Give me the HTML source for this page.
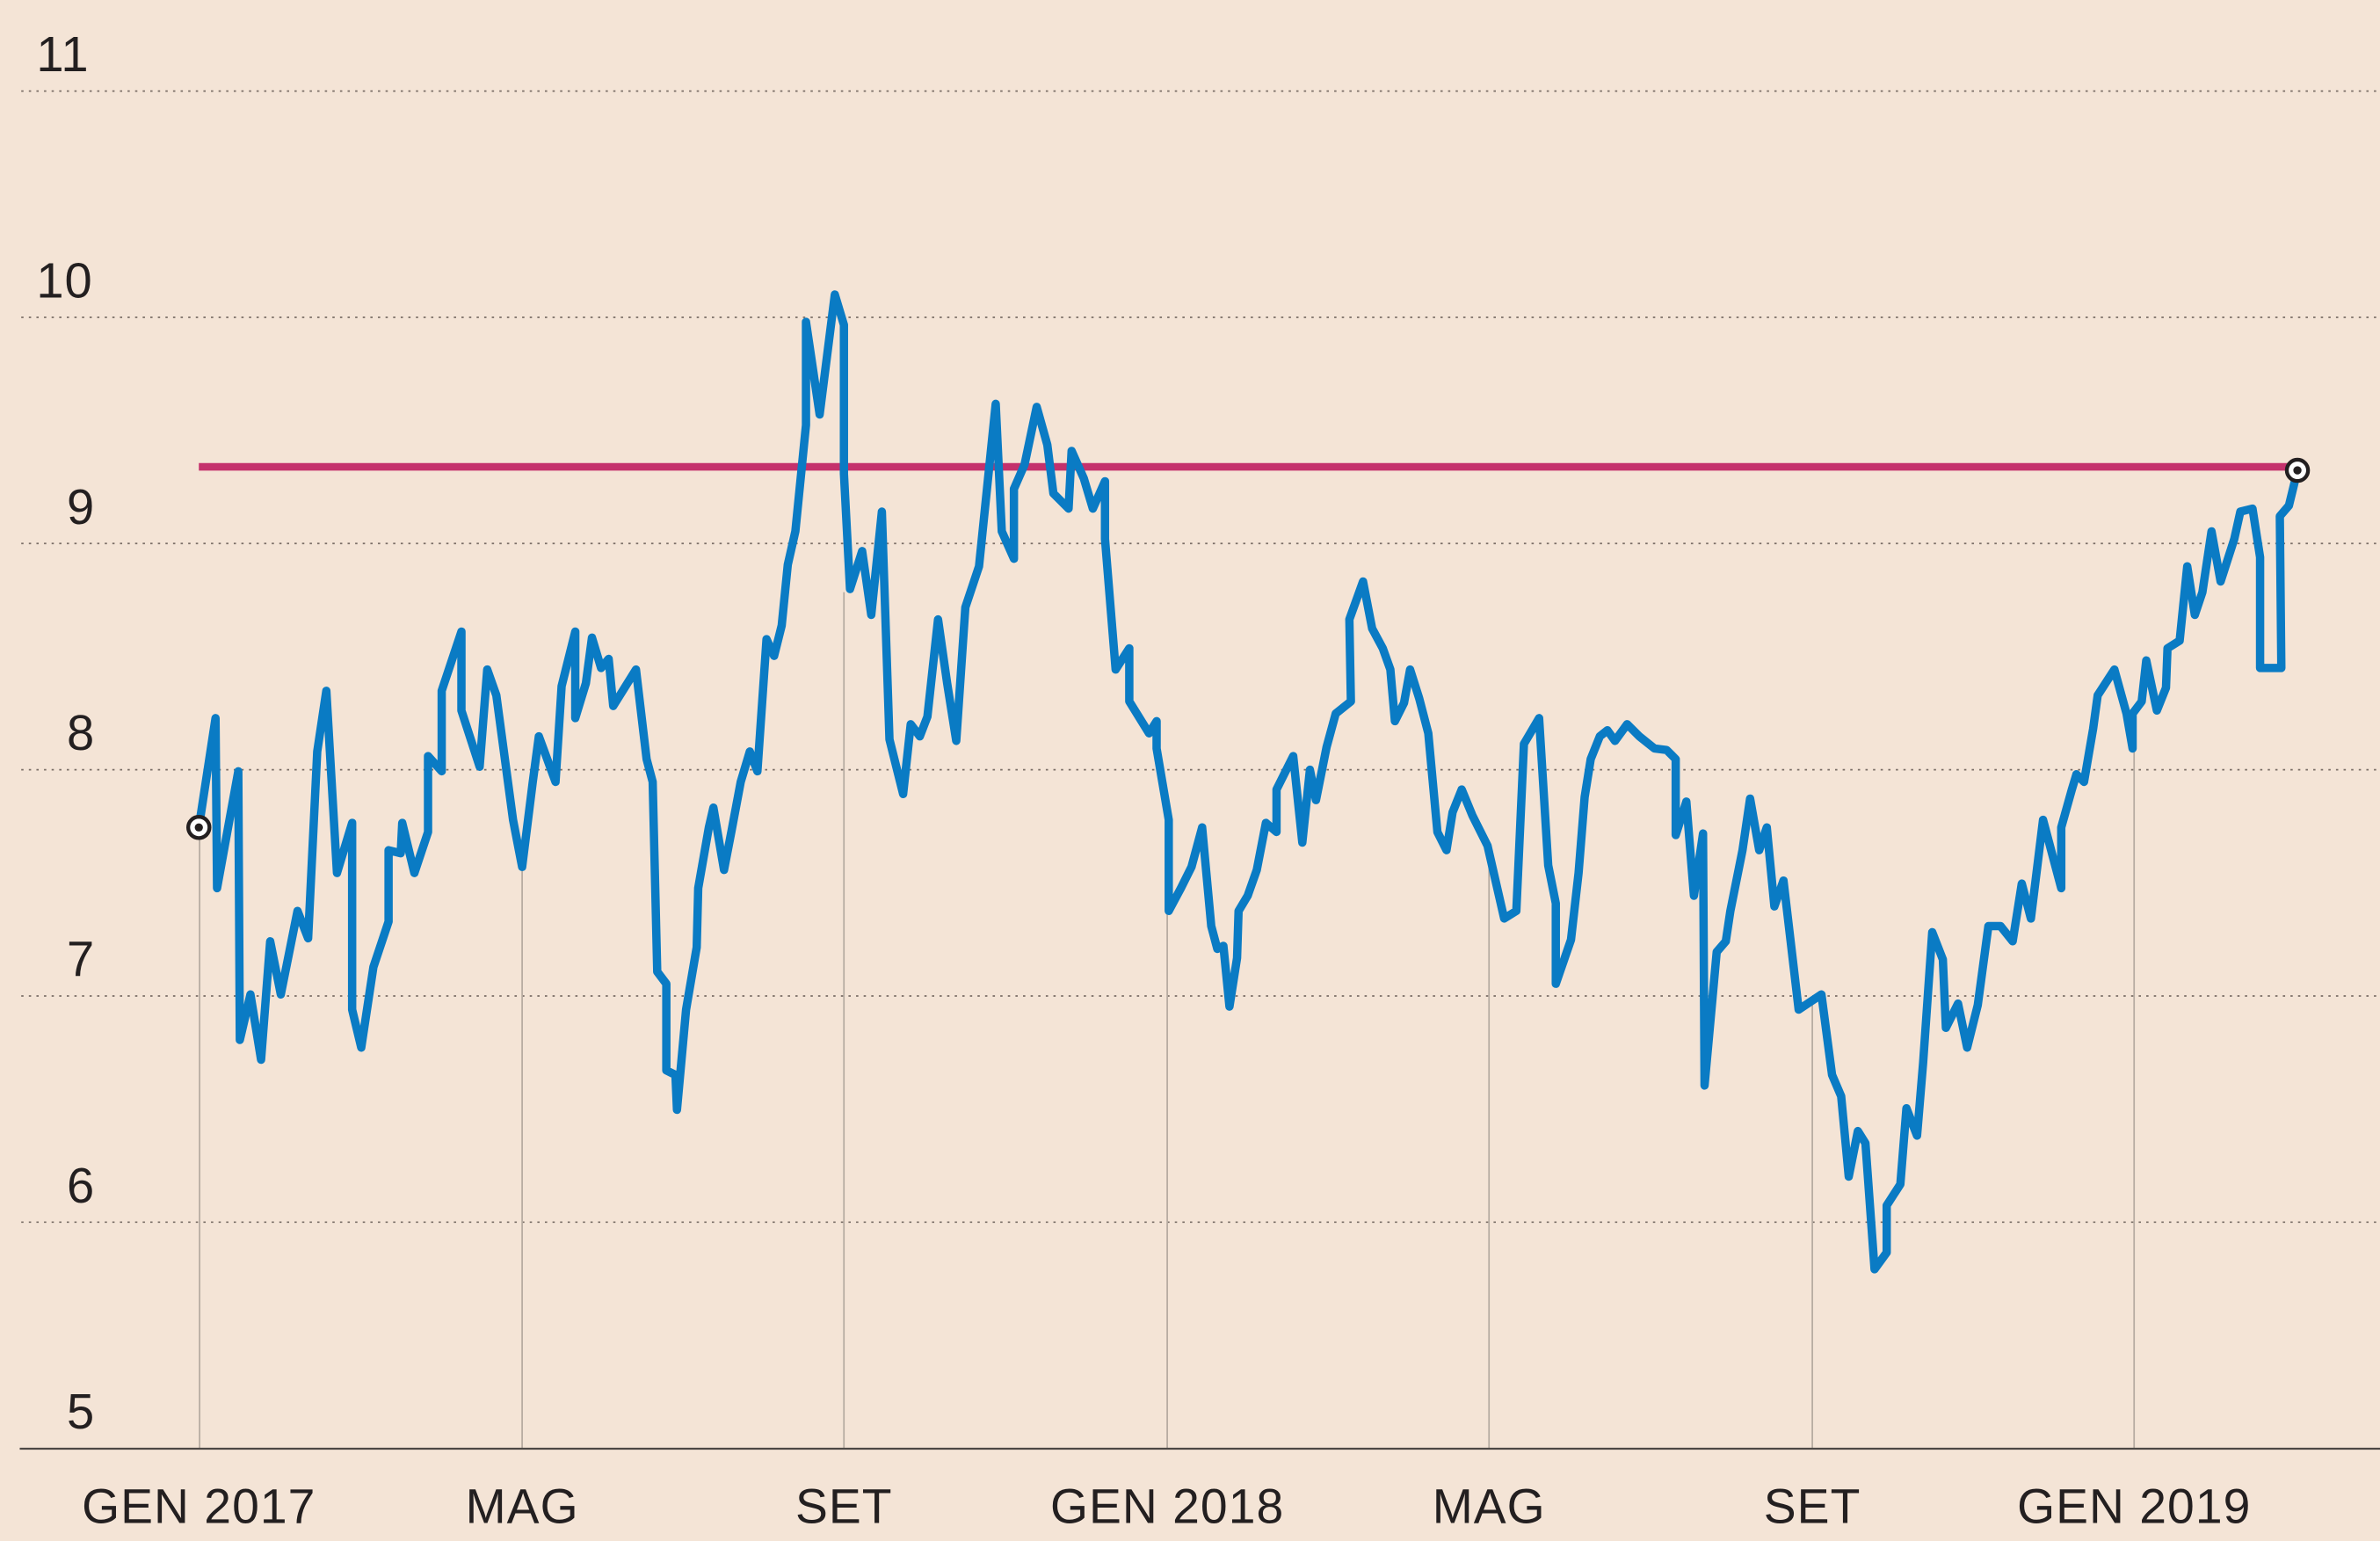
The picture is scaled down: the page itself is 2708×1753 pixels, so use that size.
<!DOCTYPE html>
<html><head><meta charset="utf-8"><style>
html,body{margin:0;padding:0;background:#f4e4d6;}
svg{display:block;}
text{font-family:"Liberation Sans",sans-serif;fill:#231f20;}
</style></head><body>
<svg width="2708" height="1753" viewBox="0 0 1568 1015" preserveAspectRatio="none">
<rect width="1568" height="1015" fill="#f4e4d6"/>
<g stroke="#7a6e66" stroke-width="1" stroke-dasharray="1.5,3.5">
<line x1="14" y1="60" x2="1568" y2="60"/>
<line x1="14" y1="209" x2="1568" y2="209"/>
<line x1="14" y1="358" x2="1568" y2="358"/>
<line x1="14" y1="507" x2="1568" y2="507"/>
<line x1="14" y1="656" x2="1568" y2="656"/>
<line x1="14" y1="805" x2="1568" y2="805"/>
</g>
<g stroke="#b5aaa0" stroke-width="1">
<line x1="131.5" y1="954" x2="131.5" y2="545"/>
<line x1="344" y1="954" x2="344" y2="571"/>
<line x1="556" y1="954" x2="556" y2="390"/>
<line x1="769" y1="954" x2="769" y2="600"/>
<line x1="981" y1="954" x2="981" y2="557"/>
<line x1="1194" y1="954" x2="1194" y2="660"/>
<line x1="1406" y1="954" x2="1406" y2="490"/>
</g>
<line x1="13" y1="954.2" x2="1568" y2="954.2" stroke="#4d4845" stroke-width="1.3"/>
<g font-size="32.5" letter-spacing="0.5">
<text x="24" y="47">11</text>
<text x="24" y="196">10</text>
<text x="44" y="345">9</text>
<text x="44" y="494">8</text>
<text x="44" y="643">7</text>
<text x="44" y="792">6</text>
<text x="44" y="941">5</text>
</g>
<g font-size="32" text-anchor="middle" letter-spacing="0.6">
<text x="131" y="1003">GEN 2017</text>
<text x="344" y="1003">MAG</text>
<text x="556" y="1003">SET</text>
<text x="769" y="1003">GEN 2018</text>
<text x="981" y="1003">MAG</text>
<text x="1194" y="1003">SET</text>
<text x="1406" y="1003">GEN 2019</text>
</g>
<line x1="131" y1="307.5" x2="1513" y2="307.5" stroke="#c4316c" stroke-width="5"/>
<polyline fill="none" stroke="#0a7bc4" stroke-width="5.5" stroke-linejoin="round" stroke-linecap="round" points="131,545 142,473 143,585 157,508 158,685 165,655 172,698 178,620 185,655 196,600 203,618 209,495 215,455 222,575 232,542 232,665 238,690 246,637 256,607 256,560 264,562 265,542 273,575 282,548 282,498 291,508 291,455 304,416 304,468 316,505 321,441 327,458 338,540 344,571 351,515 355,485 366,515 370,452 379,416 379,473 386,450 390,420 396,440 401,434 404,465 419,441 426,500 430,515 433,640 439,648 439,705 445,708 446,731 452,665 459,624 460,585 467,545 470,532 477,573 482,547 488,515 494,495 499,508 505,421 510,432 515,412 519,372 524,350 531,280 531,212 540,273 550,194 556,214 556,312 560,388 568,363 574,405 581,337 586,487 595,523 600,477 606,485 611,472 618,408 624,450 630,488 636,400 645,373 656,266 660,350 668,368 668,322 675,306 683,268 690,293 694,325 704,335 706,297 714,315 720,335 728,317 728,355 735,441 744,427 744,462 757,483 762,475 762,493 770,540 770,600 778,585 785,571 792,545 798,610 802,625 806,623 810,663 815,631 816,600 822,590 828,573 834,542 841,548 841,520 852,498 858,555 863,507 867,527 874,492 880,470 890,462 889,408 898,383 904,414 911,427 916,441 919,475 925,463 929,441 935,460 941,483 947,548 953,560 957,535 963,520 970,537 980,557 991,605 999,600 1004,490 1014,473 1020,570 1025,595 1025,648 1035,619 1040,575 1044,525 1048,500 1054,485 1059,481 1064,488 1072,477 1080,485 1090,493 1098,494 1104,500 1104,550 1111,528 1116,590 1122,549 1123,715 1131,627 1137,620 1140,600 1148,560 1153,526 1159,560 1164,545 1169,597 1175,580 1185,665 1200,655 1207,708 1213,722 1218,775 1224,745 1229,753 1235,836 1243,825 1243,794 1252,780 1256,730 1263,748 1267,700 1273,614 1280,632 1282,677 1290,661 1296,690 1303,662 1310,610 1318,610 1326,620 1332,582 1338,605 1346,540 1358,585 1358,545 1365,520 1368,510 1373,515 1379,480 1382,458 1393,441 1401,470 1405,493 1405,470 1411,462 1414,435 1421,468 1427,453 1428,427 1436,422 1441,373 1446,405 1451,390 1457,350 1463,383 1472,355 1476,337 1484,335 1489,367 1489,440 1503,440 1502,340 1508,333 1513.6,310"/>
<circle cx="131" cy="545" r="7" fill="#fff" stroke="#231f20" stroke-width="2.5"/>
<circle cx="131" cy="545" r="2.7" fill="#231f20"/>
<circle cx="1513.6" cy="309.8" r="7" fill="#fff" stroke="#231f20" stroke-width="2.5"/>
<circle cx="1513.6" cy="309.8" r="2.7" fill="#231f20"/>
</svg>
</body></html>
